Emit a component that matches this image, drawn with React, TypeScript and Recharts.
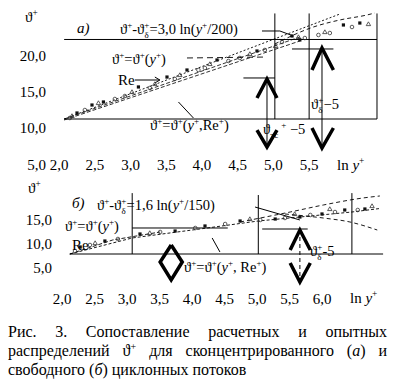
import React from "react";
import { ComposedChart, XAxis, YAxis, Scatter, Line, ReferenceLine } from "recharts";

const FONT = '"Liberation Serif", "DejaVu Serif", "Times New Roman", serif';
const INK = "#000";

// ---- panel (а): сконцентрированный поток ----
const topXTicks = [2, 2.5, 3, 3.5, 4, 4.5, 5, 5.5];
const topYTicks = [5, 10, 15, 20];

const topSquares = [
  { x: 2.25, y: 12.07 }, { x: 2.46, y: 13.17 }, { x: 2.62, y: 13.59 }, { x: 3.11, y: 15.66 },
  { x: 3.51, y: 17.03 }, { x: 3.79, y: 18.0 }, { x: 4.21, y: 19.38 }, { x: 4.77, y: 20.62 },
  { x: 5.26, y: 22.69 }, { x: 5.37, y: 22.14 }, { x: 5.98, y: 24.21 }, { x: 6.21, y: 24.48 },
];
const topCircles = [
  { x: 2.15, y: 11.38 }, { x: 2.36, y: 12.48 }, { x: 2.78, y: 14.0 }, { x: 2.92, y: 14.41 },
  { x: 3.27, y: 15.52 }, { x: 3.62, y: 16.76 }, { x: 3.95, y: 18.0 }, { x: 4.04, y: 18.28 },
  { x: 4.37, y: 19.24 }, { x: 4.53, y: 19.66 }, { x: 4.88, y: 20.76 }, { x: 5.12, y: 21.86 },
  { x: 5.44, y: 22.41 }, { x: 5.63, y: 22.83 }, { x: 5.79, y: 23.1 }, { x: 6.1, y: 23.93 },
];
const topTriangles = [
  { x: 2.18, y: 11.66 }, { x: 2.55, y: 13.45 }, { x: 3.02, y: 14.97 }, { x: 3.34, y: 16.07 },
  { x: 3.69, y: 17.31 }, { x: 4.11, y: 18.83 }, { x: 4.67, y: 20.21 }, { x: 5.03, y: 21.31 },
  { x: 5.35, y: 22.55 }, { x: 5.72, y: 23.24 }, { x: 6.33, y: 24.34 },
];

// расчетные кривые (а)
const topLogLaw = [{ x: 2.07, y: 11.24 }, { x: 5.93, y: 25.72 }];
const topReUpper = [{ x: 2.07, y: 11.24 }, { x: 5.37, y: 22.55 }];
const topReLower = [{ x: 2.07, y: 11.1 }, { x: 5.37, y: 22.0 }];
const topOuter = [
  { x: 5.02, y: 21.59 }, { x: 5.56, y: 23.93 }, { x: 5.93, y: 24.9 }, { x: 6.31, y: 25.59 }, { x: 6.42, y: 25.86 },
];

// ---- panel (б): свободный поток ----
const botXTicks = [2, 2.5, 3, 3.5, 4, 4.5, 5, 5.5, 6];
const botYTicks = [5, 10, 15];

const botSquares = [
  { x: 2.28, y: 9.27 }, { x: 2.66, y: 10.52 }, { x: 3.2, y: 11.98 }, { x: 3.74, y: 12.6 },
  { x: 4.2, y: 13.65 }, { x: 4.74, y: 14.69 }, { x: 5.28, y: 15.1 }, { x: 5.66, y: 15.52 },
  { x: 6.0, y: 16.15 }, { x: 6.35, y: 16.98 }, { x: 6.66, y: 17.19 },
];
const botCircles = [
  { x: 2.2, y: 8.44 }, { x: 2.43, y: 9.69 }, { x: 2.86, y: 10.94 }, { x: 3.51, y: 12.4 },
  { x: 4.05, y: 13.23 }, { x: 4.51, y: 14.06 }, { x: 5.05, y: 14.9 }, { x: 5.43, y: 15.31 },
  { x: 5.82, y: 15.94 }, { x: 6.2, y: 16.56 }, { x: 6.55, y: 16.98 },
];
const botTriangles = [
  { x: 2.51, y: 10.1 }, { x: 3.35, y: 12.19 }, { x: 4.89, y: 15.1 }, { x: 5.58, y: 16.15 },
  { x: 6.12, y: 17.19 }, { x: 6.77, y: 17.81 },
];

const botMean = [
  { x: 2.12, y: 7.81 }, { x: 3.08, y: 11.15 }, { x: 4.12, y: 13.02 }, { x: 5.02, y: 14.69 },
  { x: 5.66, y: 15.52 }, { x: 6.46, y: 16.56 }, { x: 6.89, y: 17.29 },
];
const botRe = [{ x: 2.12, y: 7.81 }, { x: 2.78, y: 10.73 }, { x: 3.51, y: 12.4 }];
const botOuterUp = [
  { x: 4.74, y: 14.48 }, { x: 5.51, y: 16.56 }, { x: 6.02, y: 18.02 }, { x: 6.63, y: 19.48 }, { x: 6.89, y: 19.9 },
];
const botOuterDown = [
  { x: 5.43, y: 16.15 }, { x: 6.02, y: 15.31 }, { x: 6.43, y: 14.48 }, { x: 6.85, y: 12.81 },
];

// annotation geometry (data units)
type P = { x: number; y: number };
const topFrame: P[][] = [
  [{ x: 2.07, y: 22.21 }, { x: 6.45, y: 22.21 }],
  [{ x: 2.07, y: 11.24 }, { x: 6.45, y: 11.24 }],
  [{ x: 5.02, y: 11.24 }, { x: 5.02, y: 25.8 }],
  [{ x: 5.5, y: 11.24 }, { x: 5.5, y: 25.8 }],
  [{ x: 6.45, y: 11.24 }, { x: 6.45, y: 25.8 }],
  [{ x: 4.58, y: 16.9 }, { x: 5.02, y: 16.9 }],
  [{ x: 5.26, y: 20.9 }, { x: 5.84, y: 20.9 }],
  [{ x: 4.91, y: 16.76 }, { x: 4.91, y: 7.38 }],
  [{ x: 5.68, y: 21.03 }, { x: 5.68, y: 7.24 }],
  [{ x: 3.06, y: 16.62 }, { x: 3.41, y: 16.62 }],
  [{ x: 3.67, y: 13.59 }, { x: 3.88, y: 11.38 }],
];
const topChevrons: P[][] = [
  [{ x: 4.77, y: 14.14 }, { x: 4.91, y: 16.76 }, { x: 5.05, y: 14.14 }],
  [{ x: 4.77, y: 9.72 }, { x: 4.91, y: 7.38 }, { x: 5.05, y: 9.72 }],
  [{ x: 5.54, y: 18.0 }, { x: 5.68, y: 21.03 }, { x: 5.84, y: 18.0 }],
  [{ x: 5.54, y: 10.0 }, { x: 5.68, y: 7.24 }, { x: 5.84, y: 10.0 }],
];
const topLeaders: P[][] = [
  [{ x: 4.84, y: 23.38 }, { x: 5.09, y: 23.38 }, { x: 5.28, y: 22.69 }],
  [{ x: 3.34, y: 17.03 }, { x: 3.41, y: 16.62 }, { x: 3.34, y: 16.21 }],
];
const topLeaderDashed = [{ x: 3.79, y: 19.66 }, { x: 4.91, y: 19.79 }];

const botFrame: P[][] = [
  [{ x: 2.12, y: 7.81 }, { x: 6.94, y: 7.81 }],
  [{ x: 3.08, y: 7.81 }, { x: 3.08, y: 20.5 }],
  [{ x: 5.02, y: 7.81 }, { x: 5.02, y: 20.1 }],
  [{ x: 6.46, y: 7.81 }, { x: 6.46, y: 20.5 }],
  [{ x: 3.08, y: 13.23 }, { x: 4.55, y: 13.23 }],
  [{ x: 5.08, y: 13.02 }, { x: 5.78, y: 13.02 }],
  [{ x: 4.97, y: 17.6 }, { x: 5.66, y: 14.9 }],
  [{ x: 4.31, y: 11.15 }, { x: 4.43, y: 8.23 }],
];
const botChevrons: P[][] = [
  [{ x: 5.51, y: 8.65 }, { x: 5.66, y: 12.81 }, { x: 5.82, y: 8.65 }],
  [{ x: 5.51, y: 5.94 }, { x: 5.66, y: 1.98 }, { x: 5.82, y: 5.94 }],
  [{ x: 3.68, y: 9.69 }, { x: 3.85, y: 6.15 }, { x: 3.68, y: 2.4 }, { x: 3.51, y: 6.15 }, { x: 3.68, y: 9.69 }],
];
const botStem = [{ x: 5.66, y: 12.81 }, { x: 5.66, y: 1.98 }];

const fmt = (v: number) => v.toFixed(1).replace(".", ",");

const Sq = (p: any) => <rect x={p.cx - 1.6} y={p.cy - 1.6} width={3.2} height={3.2} fill="#111" />;
const Ci = (p: any) => <circle cx={p.cx} cy={p.cy} r={1.8} fill="none" stroke="#333" strokeWidth={0.8} />;
const Tr = (p: any) => (
  <path d={`M${p.cx},${p.cy - 2.2} L${p.cx + 2.2},${p.cy + 1.6} L${p.cx - 2.2},${p.cy + 1.6}Z`} fill="none" stroke="#333" strokeWidth={0.8} />
);

const makeXTick = (dy: number) => (p: any) => (
  <text x={p.x} y={p.y} dy={dy} textAnchor="middle" fontSize={15} fontFamily={FONT} fill={INK}>
    {fmt(p.payload.value)}
  </text>
);

type Part = [string, string?, number?];
function Rich({ x, y, parts, size = 15 }: { x: number; y: number; parts: Part[]; size?: number }) {
  let cur = 0;
  return (
    <text x={x} y={y} fontSize={size} fontFamily={FONT} fill={INK}>
      {parts.map(([t, k = "n", dx], i) => {
        const target = k === "sup" ? -0.4 * size : k === "sub" ? 0.28 * size : 0;
        const dy = target - cur;
        cur = target;
        const small = k === "sup" || k === "sub";
        return (
          <tspan key={i} dy={dy} dx={dx} fontSize={small ? size * 0.62 : size} fontStyle={k === "i" ? "italic" : undefined}>
            {t}
          </tspan>
        );
      })}
    </text>
  );
}

const axisText = { fontSize: 15, fontFamily: FONT, fill: INK };

function lines(list: P[][], width: number, prefix: string) {
  return list.map((d, i) => (
    <Line key={prefix + i} data={d} dataKey="y" type="linear" stroke={INK} strokeWidth={width}
      dot={false} activeDot={false} isAnimationActive={false} legendType="none" />
  ));
}

function segs(list: P[][], prefix: string) {
  return list.map((s, i) => (
    <ReferenceLine key={prefix + i} segment={s} stroke={INK} strokeWidth={1} ifOverflow="visible" />
  ));
}

export default function App() {
  return (
    <div style={{ position: "absolute", left: 0, top: 0, width: 397, height: 390, background: "#fff", fontFamily: FONT }}>
      <div style={{ position: "absolute", left: 0, top: 0 }}>
        <ComposedChart width={397} height={180} margin={{ top: 12, right: 9.3, bottom: 5.75, left: 0 }}>
          <XAxis type="number" dataKey="x" domain={[1.9, 6.6]} ticks={topXTicks} allowDataOverflow
            axisLine={false} tickLine={false} tickSize={0} tickMargin={0} height={10} tick={makeXTick(6)} interval={0} />
          <YAxis type="number" dataKey="y" domain={[5, 26]} ticks={topYTicks} allowDataOverflow
            axisLine={false} tickLine={false} tickSize={0} tickMargin={6} width={52} tick={axisText} tickFormatter={fmt} interval={0} />
          {segs(topFrame, "tf")}
          <Line data={topLogLaw} dataKey="y" stroke={INK} strokeWidth={0.9} strokeDasharray="2 2" dot={false} isAnimationActive={false} />
          <Line data={topReUpper} dataKey="y" stroke={INK} strokeWidth={0.8} strokeDasharray="4 2" dot={false} isAnimationActive={false} />
          <Line data={topReLower} dataKey="y" stroke={INK} strokeWidth={0.8} strokeDasharray="4 2" dot={false} isAnimationActive={false} />
          <Line data={topOuter} dataKey="y" type="monotone" stroke={INK} strokeWidth={0.9} strokeDasharray="4 3" dot={false} isAnimationActive={false} />
          <Line data={topLeaderDashed} dataKey="y" stroke={INK} strokeWidth={0.9} strokeDasharray="6 4" dot={false} isAnimationActive={false} />
          {lines(topLeaders, 1, "tl")}
          {lines(topChevrons, 3.5, "tc")}
          <Scatter data={topCircles} shape={Ci} isAnimationActive={false} />
          <Scatter data={topTriangles} shape={Tr} isAnimationActive={false} />
          <Scatter data={topSquares} shape={Sq} isAnimationActive={false} />
        </ComposedChart>
      </div>

      <div style={{ position: "absolute", left: 0, top: 176 }}>
        <ComposedChart width={397} height={135} margin={{ top: 9.9, right: 10, bottom: 14.3, left: 0 }}>
          <XAxis type="number" dataKey="x" domain={[1.9, 7.0]} ticks={botXTicks} allowDataOverflow
            axisLine={false} tickLine={false} tickSize={0} tickMargin={0} height={10} tick={makeXTick(17.3)} interval={0} />
          <YAxis type="number" dataKey="y" domain={[1, 22]} ticks={botYTicks} allowDataOverflow
            axisLine={false} tickLine={false} tickSize={0} tickMargin={3.5} width={55.5} tick={axisText} tickFormatter={fmt} interval={0} />
          {segs(botFrame, "bf")}
          <Line data={botMean} dataKey="y" stroke={INK} strokeWidth={0.9} strokeDasharray="3 2" dot={false} isAnimationActive={false} />
          <Line data={botRe} dataKey="y" stroke={INK} strokeWidth={0.9} strokeDasharray="4 2" dot={false} isAnimationActive={false} />
          <Line data={botOuterUp} dataKey="y" type="monotone" stroke={INK} strokeWidth={0.9} strokeDasharray="4 3" dot={false} isAnimationActive={false} />
          <Line data={botOuterDown} dataKey="y" type="monotone" stroke={INK} strokeWidth={0.9} strokeDasharray="4 3" dot={false} isAnimationActive={false} />
          <Line data={botStem} dataKey="y" stroke={INK} strokeWidth={1} strokeDasharray="4 3" dot={false} isAnimationActive={false} />
          {lines(botChevrons, 3.5, "bc")}
          <Scatter data={botCircles} shape={Ci} isAnimationActive={false} />
          <Scatter data={botTriangles} shape={Tr} isAnimationActive={false} />
          <Scatter data={botSquares} shape={Sq} isAnimationActive={false} />
        </ComposedChart>
      </div>

      <svg width={397} height={312} style={{ position: "absolute", left: 0, top: 0, pointerEvents: "none" }}>
        {/* panel а */}
        <Rich x={25} y={22} parts={[["ϑ"], ["+", "sup"]]} />
        <Rich x={77} y={33} parts={[["a)", "i"]]} />
        <Rich x={120} y={34} size={14.5} parts={[["ϑ"], ["+", "sup"], ["-"], ["ϑ"], ["+", "sup"], ["δ", "sub", -5], ["=3,0 ln(", "n", 1], ["y", "i"], ["+", "sup"], ["/200)"]]} />
        <Rich x={112} y={64} size={14.5} parts={[["ϑ"], ["+", "sup"], ["=ϑ"], ["+", "sup"], ["("], ["y", "i"], ["+", "sup"], [")"]]} />
        <Rich x={118} y={85} parts={[["Re"]]} />
        <Rich x={150} y={130} size={14.5} parts={[["ϑ"], ["+", "sup"], ["=ϑ"], ["+", "sup"], ["("], ["y", "i"], ["+", "sup"], [",Re"], ["+", "sup"], [")"]]} />
        <Rich x={311} y={109} size={14.5} parts={[["ϑ"], ["+", "sup"], ["δ", "sub", -5], ["−5", "n", 1]]} />
        <Rich x={263} y={134} size={14.5} parts={[["ϑ"], ["тс", "sub"], ["+", "sup", 3], [" −5"]]} />
        <Rich x={337} y={170} parts={[["ln "], ["y", "i"], ["+", "sup"]]} />
        {/* panel б */}
        <Rich x={28} y={193} parts={[["ϑ"], ["+", "sup"]]} />
        <Rich x={72} y={208} parts={[["б)", "i"]]} />
        <Rich x={97} y={210} size={14.5} parts={[["ϑ"], ["+", "sup"], ["-"], ["ϑ"], ["+", "sup"], ["δ", "sub", -5], ["=1,6 ln(", "n", 1], ["y", "i"], ["+", "sup"], ["/150)"]]} />
        <Rich x={65} y={231} size={14.5} parts={[["ϑ"], ["+", "sup"], ["=ϑ"], ["+", "sup"], ["("], ["y", "i"], ["+", "sup"], [")"]]} />
        <Rich x={72} y={250} parts={[["Re"]]} />
        <Rich x={184} y={272} size={14.5} parts={[["ϑ"], ["+", "sup"], ["=ϑ"], ["+", "sup"], ["("], ["y", "i"], ["+", "sup"], [", Re"], ["+", "sup"], [")"]]} />
        <Rich x={310} y={256} size={14.5} parts={[["ϑ"], ["+", "sup"], ["δ", "sub", -5], ["-5", "n", 1]]} />
        <Rich x={350} y={303} parts={[["ln "], ["y", "i"], ["+", "sup"]]} />
      </svg>

      <div style={{ position: "absolute", left: 8, top: 322, width: 379, fontSize: 16, lineHeight: "19px", color: INK }}>
        <div style={{ textAlign: "justify", textAlignLast: "justify" }}>Рис. 3. Сопоставление расчетных и опытных</div>
        <div style={{ textAlign: "justify", textAlignLast: "justify" }}>
          распределений ϑ<sup style={{ fontSize: 10, lineHeight: 0 }}>+</sup> для сконцентрированного (<i>а</i>) и
        </div>
        <div>свободного (<i>б</i>) циклонных потоков</div>
      </div>
    </div>
  );
}
